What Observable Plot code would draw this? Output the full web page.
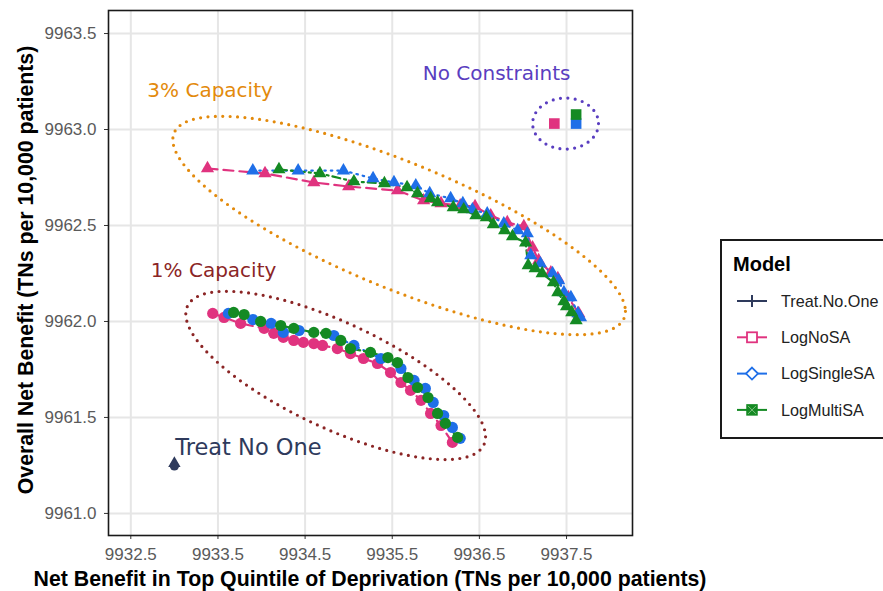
<!DOCTYPE html>
<html><head><meta charset="utf-8">
<script src="https://cdn.jsdelivr.net/npm/d3@7"></script>
<script src="https://cdn.jsdelivr.net/npm/@observablehq/plot@0.6"></script>
<style>
body{margin:0;background:#fff;overflow:hidden}
#chart{position:relative;width:883px;height:591px;overflow:hidden}
</style>
</head><body><div id="chart"></div>
<script>
// ---- categories / labels ----
const models = ["Treat.No.One", "LogNoSA", "LogSingleSA", "LogMultiSA"];
const modelColors = ["#2E3A5C", "#E0337F", "#1F6FE8", "#148A23"];
const xTicks = [9932.5, 9933.5, 9934.5, 9935.5, 9936.5, 9937.5];
const yTicks = [9961.0, 9961.5, 9962.0, 9962.5, 9963.0, 9963.5];
const xTitle = "Net Benefit in Top Quintile of Deprivation (TNs per 10,000 patients)";
const yTitle = "Overall Net Benefit (TNs per 10,000 patients)";
const legendTitle = "Model";

// ---- 3% capacity (triangles) ----
const cap3NoSA = [[9933.38,9962.797],[9934.04,9962.771],[9934.60,9962.724],[9935.00,9962.703],[9935.56,9962.682],[9935.86,9962.630],[9936.06,9962.615],[9936.28,9962.604],[9936.45,9962.599],[9936.63,9962.552],[9936.82,9962.516],[9937.01,9962.495],[9937.11,9962.385],[9937.18,9962.318],[9937.32,9962.255],[9937.40,9962.224],[9937.52,9962.125],[9937.64,9962.042]];
const cap3Single = [[9933.90,9962.786],[9934.42,9962.786],[9934.94,9962.786],[9935.28,9962.745],[9935.52,9962.724],[9935.77,9962.708],[9935.93,9962.667],[9936.17,9962.641],[9936.31,9962.615],[9936.42,9962.583],[9936.59,9962.562],[9936.78,9962.510],[9936.94,9962.474],[9937.05,9962.458],[9937.09,9962.344],[9937.20,9962.302],[9937.34,9962.250],[9937.41,9962.214],[9937.47,9962.151],[9937.55,9962.125],[9937.63,9962.042],[9937.66,9962.021]];
const cap3Multi = [[9934.20,9962.792],[9934.67,9962.771],[9935.06,9962.729],[9935.41,9962.719],[9935.67,9962.698],[9935.79,9962.667],[9935.94,9962.641],[9936.02,9962.620],[9936.20,9962.594],[9936.32,9962.583],[9936.46,9962.552],[9936.58,9962.542],[9936.66,9962.505],[9936.79,9962.474],[9936.88,9962.443],[9937.03,9962.411],[9937.06,9962.292],[9937.14,9962.276],[9937.22,9962.250],[9937.35,9962.203],[9937.40,9962.151],[9937.47,9962.104],[9937.50,9962.078],[9937.56,9962.047],[9937.61,9962.005]];

// ---- 1% capacity (circles) ----
const cap1NoSA = [[9933.44,9962.042],[9933.57,9962.021],[9933.76,9961.990],[9934.03,9961.964],[9934.14,9961.938],[9934.25,9961.917],[9934.37,9961.901],[9934.48,9961.891],[9934.60,9961.885],[9934.70,9961.875],[9934.87,9961.859],[9935.02,9961.833],[9935.17,9961.807],[9935.33,9961.781],[9935.48,9961.734],[9935.60,9961.682],[9935.71,9961.641],[9935.83,9961.589],[9935.94,9961.521],[9936.06,9961.458],[9936.19,9961.370]];
const cap1Single = [[9933.62,9962.042],[9933.90,9962.010],[9934.11,9961.990],[9934.25,9961.943],[9934.43,9961.953],[9934.83,9961.927],[9935.06,9961.875],[9935.37,9961.807],[9935.60,9961.755],[9935.75,9961.693],[9935.88,9961.651],[9935.97,9961.578],[9936.09,9961.510],[9936.19,9961.448],[9936.28,9961.391]];
const cap1Multi = [[9933.68,9962.047],[9933.80,9962.036],[9933.99,9962.000],[9934.22,9961.979],[9934.37,9961.964],[9934.60,9961.943],[9934.74,9961.938],[9934.91,9961.901],[9935.02,9961.859],[9935.25,9961.839],[9935.45,9961.812],[9935.56,9961.786],[9935.68,9961.708],[9935.79,9961.656],[9935.91,9961.604],[9936.02,9961.521],[9936.11,9961.469],[9936.25,9961.396]];

// ---- no constraints (squares) & treat no one ----
const noConstraintModels = ["LogNoSA", "LogSingleSA", "LogMultiSA"];
const noConstraintX = [9937.36, 9937.61, 9937.61];
const noConstraintY = [9963.031, 9963.031, 9963.078];
const treatNoOne = [9933.00, 9961.255];

// ---- annotations ----
const annLabels = ["3% Capacity", "1% Capacity", "No Constraints", "Treat No One"];
const annX = [9932.69, 9932.73, 9935.85, 9933.01];
const annY = [9963.203, 9962.266, 9963.29, 9961.344];
const annSizes = [20, 20, 20, 22.5];
const annColors = ["#E38A0C", "#8B2525", "#5A3EC0", "#2E3A5C"];
// ellipses: centre and two conjugate half-axis vectors in data units
const ellipseNames = ["3% Capacity", "1% Capacity", "No Constraints"];
const ellipseCx = [9935.579, 9934.851, 9937.489];
const ellipseCy = [9962.500, 9961.719, 9963.031];
const ellipseU = [[2.597, -0.447], [1.720, -0.320], [0.378, 0]];
const ellipseV = [[0, -0.352], [0, -0.2995], [0, -0.133]];

// ---- build tables ----
function rows(arr, model, group) { return arr.map(([x, y]) => ({x, y, model, group})); }
const cap3 = [...rows(cap3NoSA, "LogNoSA", "3%"), ...rows(cap3Single, "LogSingleSA", "3%"), ...rows(cap3Multi, "LogMultiSA", "3%")];
const cap1 = [...rows(cap1NoSA, "LogNoSA", "1%"), ...rows(cap1Single, "LogSingleSA", "1%"), ...rows(cap1Multi, "LogMultiSA", "1%")];
const noCons = noConstraintModels.map((m, i) => ({model: m, x: noConstraintX[i], y: noConstraintY[i]}));
const tno = [{model: "Treat.No.One", x: treatNoOne[0], y: treatNoOne[1]}];
const ann = annLabels.map((t, i) => ({t, x: annX[i], y: annY[i], c: annColors[i], s: annSizes[i]}));
const ellPts = [];
ellipseNames.forEach((n, i) => {
  for (let k = 0; k <= 360; k++) {
    const a = k * Math.PI / 180;
    ellPts.push({name: n, c: annColors[i],
      x: ellipseCx[i] + Math.cos(a) * ellipseU[i][0] + Math.sin(a) * ellipseV[i][0],
      y: ellipseCy[i] + Math.cos(a) * ellipseU[i][1] + Math.sin(a) * ellipseV[i][1]});
  }
});
const dashes = {"LogNoSA": "10,6", "LogSingleSA": "1.5,5", "LogMultiSA": "8,4,2,4"};
const lineMarks = [];
for (const m of ["LogNoSA", "LogSingleSA", "LogMultiSA"]) {
  for (const data of [cap1, cap3]) {
    lineMarks.push(Plot.line(data.filter(d => d.model === m), {x: "x", y: "y", stroke: "model", strokeWidth: 2.2, strokeDasharray: dashes[m]}));
  }
}

const plot = Plot.plot({
  width: 883, height: 591,
  marginLeft: 108, marginRight: 251, marginTop: 10, marginBottom: 56,
  style: {fontFamily: "'Liberation Sans', Arial, sans-serif", background: "#fff"},
  x: {domain: [9932.244, 9938.257], label: null},
  y: {domain: [9960.885, 9963.62], label: null},
  color: {domain: models, range: modelColors},
  marks: [
    Plot.gridX(xTicks, {stroke: "#e6e6e6", strokeOpacity: 1, strokeWidth: 2}),
    Plot.gridY(yTicks, {stroke: "#e6e6e6", strokeOpacity: 1, strokeWidth: 2}),
    Plot.axisX({ticks: xTicks, tickSize: 4, tickPadding: 8, tickFormat: d3.format(".1f"), fontSize: 17, color: "#5a5a5a", stroke: "#333", label: null}),
    Plot.axisY({ticks: yTicks, tickSize: 4, tickPadding: 8, tickFormat: d3.format(".1f"), fontSize: 17, color: "#5a5a5a", stroke: "#333", label: null}),
    ...ellipseNames.map(n => Plot.line(ellPts.filter(d => d.name === n), {x: "x", y: "y", stroke: d => d.c, strokeWidth: 3.2, strokeDasharray: "0,7.4", strokeLinecap: "round"})),
    ...lineMarks,
    Plot.dot(cap1, {x: "x", y: "y", fill: "model", r: 5.6, symbol: "circle"}),
    Plot.dot(cap3, {x: "x", y: "y", fill: "model", r: 4.9, symbol: "triangle"}),
    Plot.dot(noCons, {x: "x", y: "y", fill: "model", r: 6, symbol: "square"}),
    Plot.dot(tno, {x: "x", y: "y", fill: "model", r: 4.6, symbol: "circle", dy: 1.5}),
    Plot.dot(tno, {x: "x", y: "y", fill: "model", r: 4.6, symbol: "triangle", dy: -1}),
    Plot.text(ann, {x: "x", y: "y", text: "t", fill: d => d.c, fontSize: d => d.s, textAnchor: "start", fontFamily: "'DejaVu Sans', sans-serif"}),
    Plot.frame({stroke: "#1a1a1a", strokeWidth: 1.6})
  ]
});
plot.style.overflow = "hidden";
document.getElementById("chart").appendChild(plot);

// ---- axis titles & legend ----
const svg = d3.select(plot);
const colorOf = m => modelColors[models.indexOf(m)];
const font = "'Liberation Sans', Arial, sans-serif";
svg.append("text").text(xTitle).attr("x", 370).attr("y", 586)
  .attr("text-anchor", "middle").attr("font-size", 21.3).attr("font-weight", "bold").attr("fill", "#000")
  .attr("font-family", font);
svg.append("text").text(yTitle).attr("transform", "translate(33,270) rotate(-90)")
  .attr("text-anchor", "middle").attr("font-size", 21.3).attr("font-weight", "bold").attr("fill", "#000")
  .attr("font-family", font);

const lg = svg.append("g").attr("font-family", font).attr("text-anchor", "start");
lg.append("rect").attr("x", 721).attr("y", 240).attr("width", 220).attr("height", 198)
  .attr("fill", "#fff").attr("stroke", "#1a1a1a").attr("stroke-width", 2);
lg.append("text").text(legendTitle).attr("x", 733).attr("y", 271).attr("text-anchor", "start")
  .attr("font-size", 20).attr("font-weight", "bold").attr("fill", "#000");
models.forEach((m, i) => {
  const cy = 301 + i * 36.3, c = colorOf(m), cx = 752;
  const g = lg.append("g");
  g.append("line").attr("x1", 737).attr("x2", 767).attr("y1", cy).attr("y2", cy).attr("stroke", c).attr("stroke-width", 2);
  if (i === 0) {
    g.append("line").attr("x1", cx).attr("x2", cx).attr("y1", cy - 6).attr("y2", cy + 6).attr("stroke", c).attr("stroke-width", 2);
  } else if (i === 1) {
    g.append("rect").attr("x", cx - 5).attr("y", cy - 5).attr("width", 10).attr("height", 10).attr("fill", "#fff").attr("stroke", c).attr("stroke-width", 1.8);
  } else if (i === 2) {
    g.append("path").attr("d", `M${cx},${cy - 6}L${cx + 6},${cy}L${cx},${cy + 6}L${cx - 6},${cy}Z`).attr("fill", "#fff").attr("stroke", c).attr("stroke-width", 1.8);
  } else {
    g.append("rect").attr("x", cx - 5).attr("y", cy - 5).attr("width", 10).attr("height", 10).attr("fill", c).attr("stroke", c).attr("stroke-width", 1.5);
    g.append("path").attr("d", `M${cx - 4},${cy - 4}L${cx + 4},${cy + 4}M${cx + 4},${cy - 4}L${cx - 4},${cy + 4}`).attr("stroke", "#7fbf7f").attr("stroke-width", 1);
  }
  lg.append("text").text(m).attr("x", 781).attr("y", cy + 5.8).attr("text-anchor", "start")
    .attr("font-size", 16.2).attr("fill", "#222");
});
</script>
</body></html>
